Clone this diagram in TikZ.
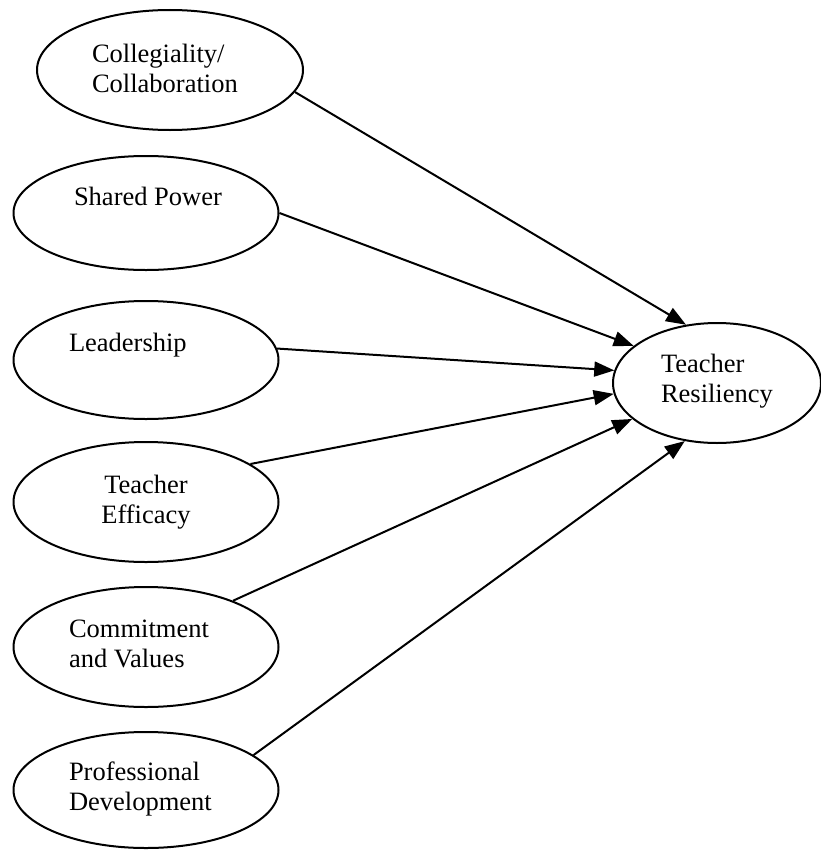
\documentclass[tikz,border=0pt]{standalone}
\usepackage{fontspec}
\setmainfont{Liberation Serif}
\usetikzlibrary{shapes.geometric,arrows.meta}
\begin{document}
\begin{tikzpicture}[x=1bp,y=-1bp,>={Triangle[length=20bp,width=15bp]},line width=2bp,line join=round,
	oval/.style={draw,ellipse,inner sep=0pt,minimum width=265bp,minimum height=118bp},
	txt/.style={inner sep=0pt,align=left,anchor=base west,font=\fontsize{26.5bp}{30bp}\selectfont}]
	\useasboundingbox (0,0) rectangle (821,850);
	% factors
	\node[oval,minimum width=266bp,minimum height=120bp] (coll) at (170,70) {};
	\node[oval,minimum height=114bp] (power) at (146,213) {};
	\node[oval] (lead) at (146,360) {};
	\node[oval,minimum height=120bp] (eff) at (146,502) {};
	\node[oval,minimum height=120bp] (comm) at (146,647) {};
	\node[oval,minimum height=116bp] (prof) at (146,790) {};
	\node[oval,minimum width=208bp,minimum height=120bp] (res) at (717,383) {};
	% labels (base = last line)
	\node[txt] (coll-t) at (91,92) {Collegiality/\\Collaboration};
	\node[txt] (power-t) at (73,205) {Shared Power};
	\node[txt] (lead-t) at (68,351) {Leadership};
	\node[txt,align=center,anchor=base] (eff-t) at (146,523) {Teacher\\Efficacy};
	\node[txt] (comm-t) at (68,667) {Commitment\\and Values};
	\node[txt] (prof-t) at (68,810) {Professional\\Development};
	\node[txt] (res-t) at (660,402) {Teacher\\Resiliency};
	% paths
	\draw[->] (coll.-10) -- (res.118);
	\draw[->] (power.0) -- (res.156);
	\draw[->] (lead.5.6) -- (res.173.4);
	\draw[->] (eff.20.6) -- (res.186.6);
	\draw[->] (comm.28.9) -- (res.203.6);
	\draw[->] (prof.18.6) -- (res.241.9);
\end{tikzpicture}
\end{document}
